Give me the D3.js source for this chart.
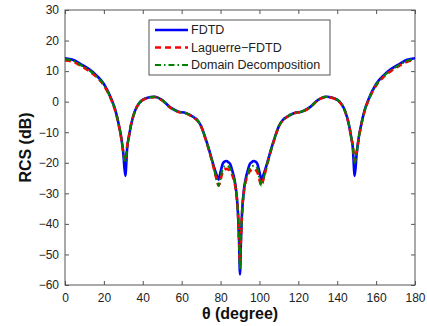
<!DOCTYPE html>
<html>
<head>
<meta charset="utf-8">
<script src="https://cdn.jsdelivr.net/npm/d3@7"></script>
<style>
  body { margin: 0; background: #fff; }
  svg { display: block; font-family: "Liberation Sans", Arial, sans-serif; }
</style>
</head>
<body>
<div id="chart"></div>
<script>
// angles (degree)
const angles = [0, 4, 8, 12, 16, 20, 24, 26, 28, 29, 30, 31, 32, 33, 34, 36, 38, 42, 46, 50, 54, 58, 62, 66, 68, 70, 72, 74, 76, 78, 79, 80, 81, 82, 83, 84, 85, 86, 87, 88, 89, 89.5, 90,
  90.5, 91, 92, 93, 94, 95, 96, 97, 98, 99, 100, 101, 102, 104, 106, 108, 110, 112, 114, 118, 122, 126, 130, 134, 138, 142, 144, 146, 147, 148, 149, 150, 151, 152, 154, 156, 160, 164, 168, 172, 176, 180]

const fdtd = [14.2, 13.7, 12.3, 10.8, 8.7, 5.8, 0.6, -3.0, -8.5, -12, -17, -24.3, -15, -11, -7.5, -3.0, -0.6, 1.2, 1.6, 0.5, -1.8, -3.2, -3.7, -5.0, -6.0, -8.0, -11.5, -15.5, -20, -24, -25.5, -23, -20.5, -19.6, -19.4, -19.8, -20.5, -22.5, -25, -29, -37, -45, -56.5,
  -45, -37, -29, -25, -22.5, -20.5, -19.8, -19.4, -19.6, -20.5, -23, -25.5, -24, -20, -15.5, -11.5, -8.0, -6.0, -5.0, -3.7, -3.2, -1.8, 0.5, 1.6, 1.2, -0.6, -3.0, -7.5, -11, -15, -24.3, -17, -12, -8.5, -3.0, 0.6, 5.8, 8.7, 10.8, 12.3, 13.7, 14.2]

const laguerre = [13.5, 13.1, 11.8, 10.2, 8.2, 5.3, 0.3, -3.3, -8.8, -12.3, -16.5, -19.5, -14.5, -10.8, -7.5, -3.1, -0.7, 1.1, 1.5, 0.4, -1.9, -3.3, -3.8, -5.1, -6.1, -8.1, -11.7, -15.8, -20.5, -25.5, -27.5, -25.5, -23.2, -22.3, -22.0, -22.2, -22.8, -24, -26, -29.5, -37, -45, -53,
  -45, -37, -29.5, -26, -24, -22.8, -22.2, -22.0, -22.3, -23.2, -25.5, -27.5, -25.5, -20.5, -15.8, -11.7, -8.1, -6.1, -5.1, -3.8, -3.3, -1.9, 0.4, 1.5, 1.1, -0.7, -3.1, -7.5, -10.8, -14.5, -19.5, -16.5, -12.3, -8.8, -3.3, 0.3, 5.3, 8.2, 10.2, 11.8, 13.1, 13.5]

const domain = [13.9, 13.4, 12.0, 10.5, 8.5, 5.5, 0.4, -3.1, -8.6, -12.1, -16.7, -20.0, -14.7, -10.9, -7.5, -3.0, -0.6, 1.2, 1.6, 0.5, -1.8, -3.2, -3.7, -5.0, -6.0, -8.0, -11.6, -15.7, -20.3, -25.5, -27.5, -25, -22.0, -21.2, -21.0, -21.2, -21.8, -23.5, -25.5, -29.5, -37, -45, -55,
  -45, -37, -29.5, -25.5, -23.5, -21.8, -21.2, -21.0, -21.2, -22.0, -25, -27.5, -25.5, -20.3, -15.7, -11.6, -8.0, -6.0, -5.0, -3.7, -3.2, -1.8, 0.5, 1.6, 1.2, -0.6, -3.0, -7.5, -10.9, -14.7, -20.0, -16.7, -12.1, -8.6, -3.1, 0.4, 5.5, 8.5, 10.5, 12.0, 13.4, 13.9]

const seriesNames = ["FDTD", "Laguerre\u2212FDTD", "Domain Decomposition"]
const xTicks = [0, 20, 40, 60, 80, 100, 120, 140, 160, 180]
const yTicks = [-60, -50, -40, -30, -20, -10, 0, 10, 20, 30]

const width = 427, height = 326
const margin = { top: 10, right: 12, bottom: 41, left: 65 }
const innerW = width - margin.left - margin.right
const innerH = height - margin.top - margin.bottom

const svg = d3.select("#chart").append("svg")
    .attr("width", width)
    .attr("height", height)

const g = svg.append("g")
    .attr("transform", "translate(" + margin.left + "," + margin.top + ")")

const x = d3.scaleLinear().domain([0, 180]).range([0, innerW])
const y = d3.scaleLinear().domain([-60, 30]).range([innerH, 0])

const defs = svg.append("defs")
defs.append("clipPath").attr("id", "clip")
    .append("rect").attr("width", innerW).attr("height", innerH)

// axes, ticks pointing inward like matlab
function styleAxis(sel) {
    sel.select(".domain").remove()
    sel.selectAll(".tick line").attr("stroke", "#555")
    sel.selectAll(".tick text").attr("fill", "#222").style("font-size", "12px")
}

g.append("g")
    .attr("transform", "translate(0," + innerH + ")")
    .call(d3.axisBottom(x).tickValues(xTicks).tickSize(-4).tickPadding(8).tickFormat(d3.format("d")))
    .call(styleAxis)

g.append("g")
    .call(d3.axisTop(x).tickValues(xTicks).tickSize(-4).tickFormat(""))
    .call(styleAxis)

g.append("g")
    .call(d3.axisLeft(y).tickValues(yTicks).tickSize(-4).tickPadding(6).tickFormat(d => d < 0 ? "\u2212" + Math.abs(d) : d))
    .call(styleAxis)

g.append("g")
    .attr("transform", "translate(" + innerW + ",0)")
    .call(d3.axisRight(y).tickValues(yTicks).tickSize(-4).tickFormat(""))
    .call(styleAxis)

g.append("rect")
    .attr("width", innerW)
    .attr("height", innerH)
    .attr("fill", "none")
    .attr("stroke", "#555")
    .attr("stroke-width", 1)

const styles = [
    { color: "#0000ff", dash: null, width: 2.6 },
    { color: "#ff0000", dash: "6,4", width: 2.6 },
    { color: "#008000", dash: "6,3,1.5,3", width: 2.2 }
]
const allSeries = [fdtd, laguerre, domain]

const line = d3.line()
    .x(function (d) { return x(d[0]) })
    .y(function (d) { return y(d[1]) })
    .curve(d3.curveMonotoneX)

const plot = g.append("g").attr("clip-path", "url(#clip)")
allSeries.forEach(function (vals, i) {
    const pts = angles.map(function (a, j) { return [a, vals[j]] })
    plot.append("path")
        .datum(pts)
        .attr("fill", "none")
        .attr("stroke", styles[i].color)
        .attr("stroke-width", styles[i].width)
        .attr("stroke-dasharray", styles[i].dash)
        .attr("stroke-linejoin", "round")
        .attr("d", line)
})

// legend
const legend = svg.append("g").attr("transform", "translate(149,20)")
legend.append("rect")
    .attr("width", 181)
    .attr("height", 55)
    .attr("fill", "#fff")
    .attr("stroke", "#555")

seriesNames.forEach(function (name, i) {
    const cy = 10 + i * 17.5
    legend.append("line")
        .attr("x1", 6).attr("x2", 39)
        .attr("y1", cy).attr("y2", cy)
        .attr("stroke", styles[i].color)
        .attr("stroke-width", styles[i].width)
        .attr("stroke-dasharray", styles[i].dash)
    legend.append("text")
        .attr("x", 42)
        .attr("y", cy)
        .attr("dy", "0.35em")
        .attr("fill", "#222")
        .style("font-size", "12.5px")
        .text(name)
})

// axis labels
svg.append("text")
    .attr("x", margin.left + innerW / 2)
    .attr("y", 319)
    .attr("text-anchor", "middle")
    .style("font-size", "16px")
    .style("font-weight", "bold")
    .attr("fill", "#111")
    .text("\u03b8 (degree)")

svg.append("text")
    .attr("transform", "translate(31," + (margin.top + innerH / 2) + ") rotate(-90)")
    .attr("text-anchor", "middle")
    .style("font-size", "16px")
    .style("font-weight", "bold")
    .attr("fill", "#111")
    .text("RCS (dB)")
</script>
</body>
</html>
